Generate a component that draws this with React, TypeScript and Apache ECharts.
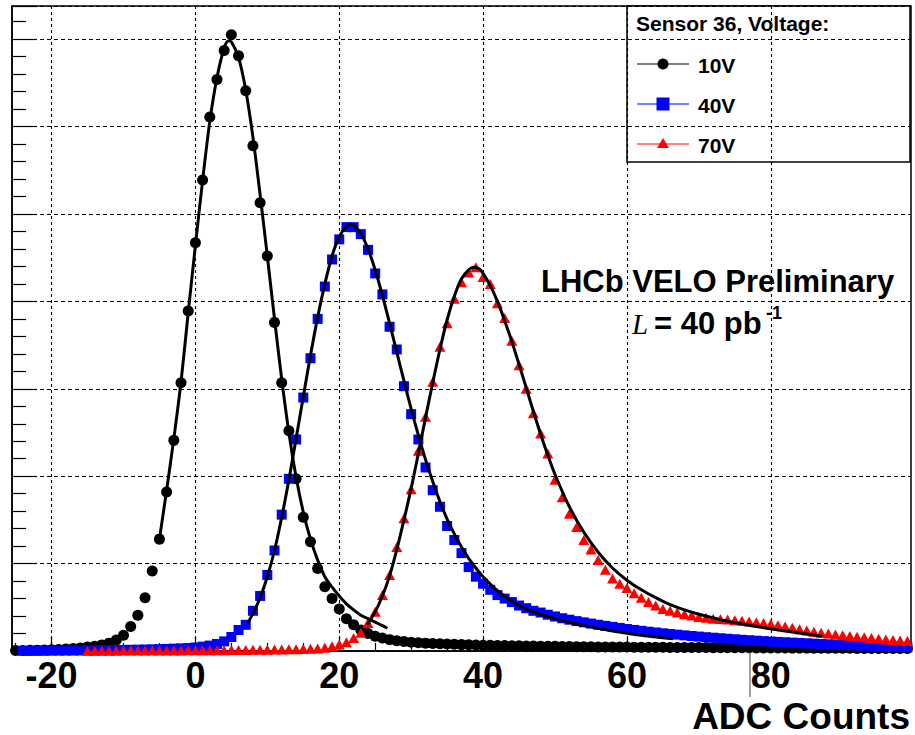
import React, { useEffect, useRef } from "react";
import * as echarts from "echarts";

// ---- axis ranges / ticks ----
const xMin = -25.5;
const xMax = 99.5;
const yMax = 7380;
const majorX = [-20, 0, 20, 40, 60, 80];
const minorX = [-25, -20, -15, -10, -5, 0, 5, 10, 15, 20, 25, 30, 35, 40, 45, 50, 55, 60, 65, 70, 75, 80, 85, 90, 95];
const minorY = [200, 400, 600, 800, 1200, 1400, 1600, 1800, 2200, 2400, 2600, 2800, 3200, 3400, 3600, 3800, 4200, 4400, 4600, 4800, 5200, 5400, 5600, 5800, 6200, 6400, 6600, 6800, 7200];

// ---- histogram contents (one value per ADC bin, starting at the given bin) ----
const series10VLabel = "10V";
const series40VLabel = "40V";
const series70VLabel = "70V";

const black10VStart = -25;
const black10VCounts = [
  5, 5, 8, 10, 12, 15, 18, 22, 28, 35,
  45, 55, 70, 90, 125, 180, 280, 410, 610, 915,
  1280, 1820, 2410, 3070, 3890, 4670, 5390, 6110, 6540, 6870,
  7050, 6810, 6410, 5780, 5130, 4520, 3760, 3070, 2520, 1970,
  1530, 1250, 945, 735, 600, 480, 370, 300, 240, 200,
  170, 150, 130, 118, 108, 100, 95, 90, 86, 82,
  79, 76, 73, 71, 69, 67, 65, 63, 62, 60,
  59, 58, 56, 55, 54, 53, 52, 51, 50, 49,
  48, 47, 47, 46, 45, 45, 44, 43, 43, 42,
  42, 41, 41, 40, 40, 39, 39, 38, 38, 37,
  37, 36, 36, 35, 35, 35, 34, 34, 33, 33,
  33, 32, 32, 32, 31, 31, 31, 30, 30, 30,
  29, 29, 29, 28, 28,
];

const blue40VStart = -24;
const blue40VCounts = [
  2, 2, 3, 3, 4, 4, 5, 5, 6, 7,
  8, 9, 10, 11, 12, 14, 15, 17, 19, 21,
  24, 27, 30, 34, 40, 50, 62, 80, 110, 160,
  240, 300, 460, 630, 870, 1150, 1560, 1970, 2420, 2900,
  3350, 3800, 4170, 4480, 4710, 4850, 4850, 4770, 4590, 4320,
  4080, 3710, 3450, 3030, 2710, 2420, 2100, 1840, 1650, 1430,
  1270, 1120, 960, 850, 770, 700, 640, 600, 560, 520,
  490, 460, 440, 415, 395, 375, 358, 342, 328, 314,
  300, 288, 276, 264, 252, 241, 231, 221, 212, 203,
  195, 187, 179, 172, 165, 158, 152, 146, 140, 134,
  128, 123, 118, 113, 108, 104, 100, 96, 92, 88,
  84, 80, 77, 74, 71, 68, 65, 62, 59, 56,
  53, 50, 47, 44,
];

const red70VStart = -15;
const red70VCounts = [
  3, 3, 4, 4, 4, 5, 5, 5, 6, 6,
  6, 7, 7, 7, 8, 8, 9, 9, 10, 10,
  11, 11, 12, 13, 14, 15, 16, 17, 19, 21,
  23, 26, 30, 38, 55, 75, 100, 150, 210, 320,
  450, 640, 870, 1190, 1520, 1850, 2290, 2680, 3080, 3480,
  3750, 4030, 4220, 4330, 4390, 4280, 4200, 3980, 3810, 3550,
  3270, 3000, 2720, 2490, 2260, 1960, 1760, 1570, 1420, 1270,
  1160, 1040, 930, 830, 770, 720, 660, 610, 560, 520,
  480, 460, 440, 420, 405, 390, 380, 370, 365, 360,
  352, 345, 338, 330, 320, 310, 295, 280, 265, 250,
  235, 220, 210, 200, 190, 180, 172, 164, 156, 148,
  140, 133, 126, 120, 115,
];

// ---- fitted curves ----
const fit10VX = [-5, -4, -3, -2, -1, 0, 1, 2, 3, 4, 4.6, 5, 6, 7, 8, 9, 10, 11, 12, 13, 14, 15, 16, 17, 18, 19, 20, 21, 22, 23, 24, 25, 26, 26.7];
const fit10VY = [1280, 1840, 2430, 3080, 3870, 4640, 5380, 6060, 6560, 6900, 6980, 6970, 6790, 6420, 5880, 5220, 4520, 3800, 3110, 2500, 1990, 1590, 1280, 1040, 850, 730, 630, 540, 470, 410, 370, 330, 290, 260];

const fit40VX = [7.3, 8, 9, 10, 11, 12, 13, 14, 15, 16, 17, 18, 19, 20, 21, 21.6, 22, 23, 24, 25, 26, 27, 28, 29, 30, 31, 32, 33, 34, 35, 36, 37, 38, 39, 40, 42, 44, 46, 48, 50, 54, 58, 62, 66.4];
const fit40VY = [320, 430, 610, 850, 1150, 1530, 1960, 2430, 2910, 3380, 3820, 4200, 4520, 4740, 4860, 4880, 4870, 4780, 4600, 4360, 4070, 3750, 3420, 3090, 2770, 2470, 2190, 1940, 1710, 1510, 1340, 1190, 1060, 950, 850, 690, 570, 480, 420, 370, 290, 230, 180, 140];

const fit70VX = [23.9, 25, 26, 27, 28, 29, 30, 31, 32, 33, 34, 35, 36, 37, 38, 38.7, 39.5, 40, 41, 42, 43, 44, 45, 46, 47, 48, 49, 50, 52, 54, 56, 58, 60, 62, 64, 66, 68, 70, 74, 78, 82, 87.2];
const fit70VY = [300, 450, 630, 860, 1160, 1500, 1860, 2260, 2670, 3070, 3450, 3790, 4060, 4260, 4360, 4390, 4370, 4320, 4180, 4000, 3780, 3540, 3280, 3010, 2740, 2480, 2240, 2020, 1650, 1360, 1130, 950, 810, 700, 610, 530, 470, 420, 340, 280, 230, 170];

const legendTitle = "Sensor 36, Voltage:";
const xAxisTitle = "ADC Counts";
const experimentLabel = "LHCb VELO Preliminary";

const SANS = '"Liberation Sans", Arial, Helvetica, sans-serif';

function binned(start: number, counts: number[]) {
  return counts.map((c, i) => [start + i, c]);
}
function curve(xs: number[], ys: number[]) {
  return xs.map((x, i) => [x, ys[i]]);
}

export default function App() {
  const ref = useRef<HTMLDivElement>(null);
  useEffect(() => {
    if (!ref.current) return;
    const chart = echarts.init(ref.current, null, { renderer: "svg" });
    const gridDash = { color: "#000", width: 1.1, type: [3, 3] as any };
    const option: any = {
      animation: false,
      backgroundColor: "#fff",
      grid: {
        left: 12,
        right: 4,
        top: 6,
        bottom: 84,
        show: true,
        borderColor: "#000",
        borderWidth: 1.5,
        backgroundColor: "transparent",
      },
      xAxis: [
        {
          type: "value",
          min: xMin,
          max: xMax,
          position: "bottom",
          axisLine: { show: true, onZero: false, lineStyle: { color: "#000", width: 1.5 } },
          axisTick: { show: true, inside: true, length: 8, customValues: minorX, lineStyle: { color: "#000", width: 1.2 } },
          axisLabel: {
            show: true,
            customValues: majorX,
            margin: 6,
            color: "#000",
            fontSize: 36,
            fontWeight: "bold",
            fontFamily: SANS,
          },
          splitLine: { show: false },
        },
        {
          type: "value",
          min: xMin,
          max: xMax,
          position: "bottom",
          axisLine: { show: false, onZero: false },
          axisTick: { show: true, inside: true, length: 14, customValues: majorX, lineStyle: { color: "#000", width: 1.2 } },
          axisLabel: { show: false },
          splitLine: { show: true, lineStyle: gridDash },
        },
      ],
      yAxis: [
        {
          type: "value",
          min: 0,
          max: yMax,
          interval: 1000,
          position: "left",
          axisLine: { show: true, onZero: false, lineStyle: { color: "#000", width: 1.5 } },
          axisTick: { show: true, inside: true, length: 25, lineStyle: { color: "#000", width: 1.2 } },
          axisLabel: { show: false },
          splitLine: { show: true, lineStyle: { color: "#000", width: 1.1, type: [4, 3] } },
        },
        {
          type: "value",
          min: 0,
          max: yMax,
          position: "left",
          axisLine: { show: false, onZero: false },
          axisTick: { show: true, inside: true, length: 14, customValues: minorY, lineStyle: { color: "#000", width: 1.2 } },
          axisLabel: { show: false },
          splitLine: { show: false },
        },
      ],
      series: [
        {
          name: series10VLabel,
          type: "scatter",
          xAxisIndex: 0,
          yAxisIndex: 0,
          symbol: "circle",
          symbolSize: 11,
          itemStyle: { color: "#000", opacity: 1 },
          data: binned(black10VStart, black10VCounts),
          z: 2,
        },
        {
          name: series40VLabel,
          type: "scatter",
          xAxisIndex: 0,
          yAxisIndex: 0,
          symbol: "rect",
          symbolSize: 10,
          itemStyle: { color: "#0000ff", opacity: 1 },
          data: binned(blue40VStart, blue40VCounts),
          z: 3,
        },
        {
          name: series70VLabel,
          type: "scatter",
          xAxisIndex: 0,
          yAxisIndex: 0,
          symbol: "triangle",
          symbolSize: [11, 10],
          itemStyle: { color: "#ff0000", opacity: 1 },
          data: binned(red70VStart, red70VCounts),
          z: 4,
        },
        {
          name: "fit " + series10VLabel,
          type: "line",
          xAxisIndex: 0,
          yAxisIndex: 0,
          showSymbol: false,
          smooth: 0.3,
          lineStyle: { color: "#000", width: 3 },
          data: curve(fit10VX, fit10VY),
          z: 5,
        },
        {
          name: "fit " + series40VLabel,
          type: "line",
          xAxisIndex: 0,
          yAxisIndex: 0,
          showSymbol: false,
          smooth: 0.3,
          lineStyle: { color: "#000", width: 3 },
          data: curve(fit40VX, fit40VY),
          z: 5,
        },
        {
          name: "fit " + series70VLabel,
          type: "line",
          xAxisIndex: 0,
          yAxisIndex: 0,
          showSymbol: false,
          smooth: 0.3,
          lineStyle: { color: "#000", width: 3 },
          data: curve(fit70VX, fit70VY),
          z: 5,
        },
      ],
      graphic: [
        // stray vertical mark under the axis near 80
        { type: "line", shape: { x1: 750, y1: 652, x2: 750, y2: 697 }, style: { stroke: "#444", lineWidth: 1 }, z: 10 },
        {
          type: "text",
          x: 910,
          y: 716,
          style: { text: xAxisTitle, font: `bold 37px ${SANS}`, fill: "#000", align: "right", verticalAlign: "middle" },
          z: 10,
        },
        {
          type: "text",
          x: 541,
          y: 281,
          style: { text: experimentLabel, font: `bold 31px ${SANS}`, fill: "#000", align: "left", verticalAlign: "middle" },
          z: 10,
        },
        {
          type: "text",
          x: 632,
          y: 324,
          style: { text: "L", font: 'italic 29px "Liberation Serif", "Times New Roman", serif', fill: "#000", align: "left", verticalAlign: "middle" },
          z: 10,
        },
        {
          type: "text",
          x: 654,
          y: 323,
          style: { text: "= 40 pb", font: `bold 31px ${SANS}`, fill: "#000", align: "left", verticalAlign: "middle" },
          z: 10,
        },
        {
          type: "text",
          x: 766,
          y: 313,
          style: { text: "-1", font: `bold 18px ${SANS}`, fill: "#000", align: "left", verticalAlign: "middle" },
          z: 10,
        },
        // legend box
        {
          type: "group",
          z: 20,
          children: [
            { type: "rect", shape: { x: 627, y: 6, width: 283, height: 156 }, style: { fill: "#fff", stroke: "#000", lineWidth: 1.5 } },
            { type: "text", x: 636, y: 23, style: { text: legendTitle, font: `bold 21px ${SANS}`, fill: "#000", verticalAlign: "middle" } },
            { type: "line", shape: { x1: 637, y1: 64, x2: 689, y2: 64 }, style: { stroke: "#000", lineWidth: 1 } },
            { type: "circle", shape: { cx: 663, cy: 64, r: 5.5 }, style: { fill: "#000" } },
            { type: "text", x: 698, y: 65, style: { text: series10VLabel, font: `bold 21px ${SANS}`, fill: "#000", verticalAlign: "middle" } },
            { type: "line", shape: { x1: 637, y1: 104, x2: 689, y2: 104 }, style: { stroke: "#0000ff", lineWidth: 1 } },
            { type: "rect", shape: { x: 656.5, y: 97.5, width: 13, height: 13 }, style: { fill: "#0000ff" } },
            { type: "text", x: 698, y: 105, style: { text: series40VLabel, font: `bold 21px ${SANS}`, fill: "#000", verticalAlign: "middle" } },
            { type: "line", shape: { x1: 637, y1: 144, x2: 689, y2: 144 }, style: { stroke: "#ff0000", lineWidth: 1 } },
            { type: "polygon", shape: { points: [[663, 138], [669, 148], [657, 148]] }, style: { fill: "#ff0000" } },
            { type: "text", x: 698, y: 145, style: { text: series70VLabel, font: `bold 21px ${SANS}`, fill: "#000", verticalAlign: "middle" } },
          ],
        },
      ],
    };
    chart.setOption(option);
    return () => chart.dispose();
  }, []);
  return <div ref={ref} style={{ position: "absolute", left: 0, top: 0, width: 915, height: 735 }} />;
}
